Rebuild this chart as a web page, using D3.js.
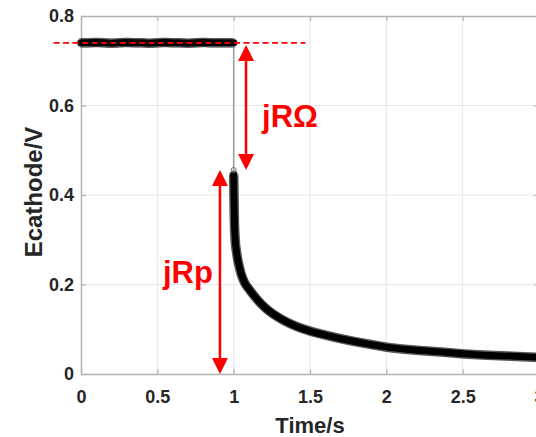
<!DOCTYPE html>
<html>
<head>
<meta charset="utf-8">
<script src="https://cdn.jsdelivr.net/npm/d3@7"></script>
<style>
html,body{margin:0;padding:0;background:#fff;}
svg{display:block;}
text{font-family:"Liberation Sans",Arial,sans-serif;font-weight:bold;}
</style>
</head>
<body>
<svg id="chart" width="536" height="437"></svg>
<script>
// ---- data ----
const xTicks = [0, 0.5, 1, 1.5, 2, 2.5, 3];
const yTicks = [0, 0.2, 0.4, 0.6, 0.8];
const flatT = [0, 0.05, 0.1, 0.15, 0.2, 0.25, 0.3, 0.35, 0.4, 0.45, 0.5, 0.55, 0.6, 0.65, 0.7, 0.75, 0.8, 0.85, 0.9, 0.95, 1.0];
const flatV = [0.74, 0.74, 0.741, 0.74, 0.739, 0.74, 0.741, 0.74, 0.74, 0.739, 0.74, 0.741, 0.74, 0.74, 0.739, 0.74, 0.741, 0.74, 0.74, 0.74, 0.74];
const decayT = [1.0, 1.002, 1.005, 1.01, 1.02, 1.04, 1.07, 1.1, 1.15, 1.2, 1.3, 1.4, 1.5, 1.6, 1.7, 1.8, 1.9, 2.0, 2.2, 2.4, 2.5, 2.6, 2.8, 3.0];
const decayV = [0.445, 0.40, 0.34, 0.30, 0.27, 0.235, 0.205, 0.19, 0.168, 0.150, 0.125, 0.108, 0.096, 0.087, 0.079, 0.072, 0.066, 0.060, 0.053, 0.048, 0.045, 0.043, 0.040, 0.037];
const stepT = [1.0, 1.0];
const stepV = [0.74, 0.456];
// annotations (data coords)
const refLine = {t: [-0.18, 1.47], v: 0.74};
const arrowOhm = {t: 1.081, v: [0.735, 0.456], label: "jRΩ", lt: 1.186, lv: 0.552};
const arrowRp = {t: 0.91, v: [0.456, 0.0], label: "jRp", lt: 0.537, lv: 0.203};

// ---- layout ----
const svg = d3.select("#chart");
const x = d3.scaleLinear().domain([0, 3]).range([81, 539]);
const y = d3.scaleLinear().domain([0, 0.8]).range([374, 16]);
const axisColor = "#b3b3b3";
const labelColor = "#262626";

// grid
svg.append("g").selectAll("line").data(xTicks.slice(1, -1)).join("line")
  .attr("x1", d => x(d)).attr("x2", d => x(d)).attr("y1", y(0)).attr("y2", y(0.8))
  .attr("stroke", "#e8e8e8").attr("stroke-width", 1);
svg.append("g").selectAll("line").data(yTicks.slice(1, -1)).join("line")
  .attr("y1", d => y(d)).attr("y2", d => y(d)).attr("x1", x(0)).attr("x2", x(3))
  .attr("stroke", "#e8e8e8").attr("stroke-width", 1);

// axes
const gx = svg.append("g").attr("transform", `translate(0,${y(0)})`)
  .call(d3.axisBottom(x).tickValues(xTicks).tickSizeInner(-5).tickSizeOuter(0).tickPadding(16).tickFormat(d3.format("")));
const gy = svg.append("g").attr("transform", `translate(${x(0)},0)`)
  .call(d3.axisLeft(y).tickValues(yTicks).tickSizeInner(-5).tickSizeOuter(0).tickPadding(7).tickFormat(d3.format("")));
const gxt = svg.append("g").attr("transform", `translate(0,${y(0.8)})`)
  .call(d3.axisTop(x).tickValues(xTicks).tickSizeInner(-5).tickSizeOuter(0).tickFormat(""));
const gyr = svg.append("g").attr("transform", `translate(${x(3)},0)`)
  .call(d3.axisRight(y).tickValues(yTicks).tickSizeInner(-5).tickSizeOuter(0).tickFormat(""));
[gx, gy, gxt, gyr].forEach(g => {
  g.select(".domain").attr("stroke", axisColor).attr("stroke-width", 1.5);
  g.selectAll(".tick line").attr("stroke", axisColor).attr("stroke-width", 1.2);
  g.selectAll(".tick text").attr("fill", labelColor).attr("font-size", 18)
    .attr("font-family", '"Liberation Sans", Arial, sans-serif').attr("font-weight", "bold");
});

// axis titles
svg.append("text").attr("x", 310).attr("y", 433).attr("text-anchor", "middle")
  .attr("font-size", 22).attr("fill", labelColor).text("Time/s");
svg.append("text").attr("transform", "translate(42,192) rotate(-90)").attr("text-anchor", "middle")
  .attr("font-size", 24).attr("fill", labelColor).text("Ecathode/V");

// data
const line = d3.line().x(d => x(d[0])).y(d => y(d[1]));
const flatData = flatT.map((t, i) => [t, flatV[i]]);
const decayData = decayT.map((t, i) => [t, decayV[i]]);
const stepData = stepT.map((t, i) => [t, stepV[i]]);

svg.append("path").datum(stepData).attr("d", line).attr("fill", "none")
  .attr("stroke", "#999").attr("stroke-width", 1.5);

function band(data, curve) {
  const p = svg.append("path").datum(data).attr("d", line.curve(curve)).attr("fill", "none")
    .attr("stroke", "#000").attr("stroke-width", 7).attr("stroke-linecap", "round");
  const node = p.node();
  const L = node.getTotalLength();
  const pts = [];
  for (let s = 0; s <= L; s += 1.6) pts.push(node.getPointAtLength(s));
  svg.append("g").selectAll("circle").data(pts).join("circle")
    .attr("cx", d => d.x).attr("cy", d => d.y).attr("r", 4.4)
    .attr("fill", "none").attr("stroke", "#000").attr("stroke-opacity", 0.4).attr("stroke-width", 0.9);
}
band(flatData, d3.curveLinear);
band(decayData, d3.curveMonotoneX);
// top marker of the drop
svg.append("circle").attr("cx", x(1)).attr("cy", y(0.456)).attr("r", 2.5)
  .attr("fill", "none").attr("stroke", "#777").attr("stroke-width", 1);

// annotations
const red = "#ff0000";
svg.append("line").attr("x1", x(refLine.t[0])).attr("x2", x(refLine.t[1]))
  .attr("y1", y(refLine.v)).attr("y2", y(refLine.v))
  .attr("stroke", red).attr("stroke-width", 1.6).attr("stroke-dasharray", "6,3.5");

function dblArrow(a) {
  const cx = x(a.t), y1 = y(a.v[0]), y2 = y(a.v[1]);
  const top = Math.min(y1, y2), bot = Math.max(y1, y2);
  const hw = 8, hl = 16;
  svg.append("line").attr("x1", cx).attr("x2", cx).attr("y1", top + hl - 2).attr("y2", bot - hl + 2)
    .attr("stroke", red).attr("stroke-width", 2.5);
  svg.append("path").attr("d", `M${cx},${top} L${cx - hw},${top + hl} L${cx + hw},${top + hl} Z`).attr("fill", red);
  svg.append("path").attr("d", `M${cx},${bot} L${cx - hw},${bot - hl} L${cx + hw},${bot - hl} Z`).attr("fill", red);
  svg.append("text").attr("x", x(a.lt)).attr("y", y(a.lv)).attr("font-size", 31)
    .attr("fill", red).text(a.label);
}
dblArrow(arrowOhm);
dblArrow(arrowRp);
</script>
</body>
</html>
